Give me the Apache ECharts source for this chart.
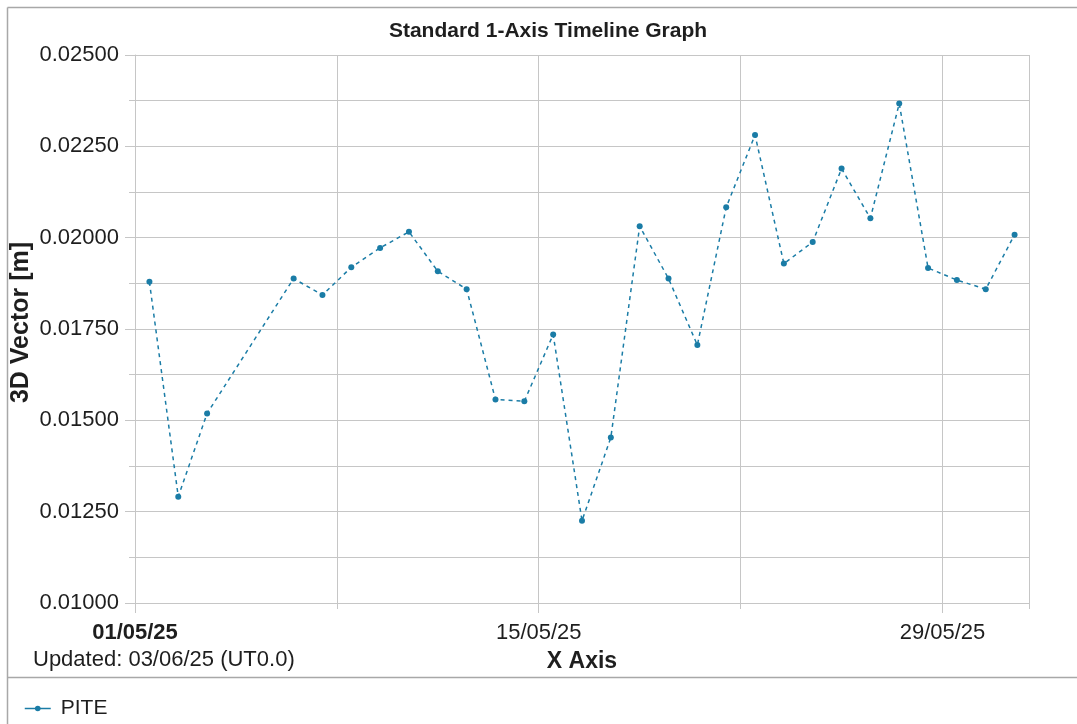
<!DOCTYPE html>
<html>
<head>
<meta charset="utf-8">
<script src="https://cdn.jsdelivr.net/npm/echarts@6/dist/echarts.min.js"></script>
<style>
  html, body { margin: 0; padding: 0; background: #fff; }
  #chart { width: 1077px; height: 724px; }
</style>
</head>
<body>
<div id="chart"></div>
<script>
// day of May 2025 for each reading (readings taken at 12:00 UT)
const obsDays = [1, 2, 3, 6, 7, 8, 9, 10, 11, 12, 13, 14, 15, 16, 17, 18, 19, 20, 21, 22, 23, 24, 25, 26, 27, 28, 29, 30, 31];
const obsHour = 12;
const piteValues = [0.01879, 0.01291, 0.01519, 0.01888, 0.01843, 0.01919, 0.01972, 0.02016, 0.01908, 0.01859,
  0.01557, 0.01552, 0.01735, 0.01225, 0.01453, 0.02031, 0.01888, 0.01706, 0.02083, 0.02281,
  0.01929, 0.01988, 0.02189, 0.02053, 0.02367, 0.01917, 0.01884, 0.01859, 0.02008];

// x axis in days since 01/05/25 00:00
const xMin = 0;
const xMax = 31;
const xTickDays = [0, 14, 28];
const xTickLabels = ['01/05/25', '15/05/25', '29/05/25'];
const yMin = 0.01;
const yMax = 0.025;
const yStep = 0.0025;

const lineColor = '#1a7ca6';
const gridColor = '#c6c6c6';
const textColor = '#1e1e1e';
const font = 'Liberation Sans, Arial, sans-serif';

let chart = echarts.init(document.getElementById('chart'));

let seriesData = obsDays.map((d, i) => [d - 1 + obsHour / 24, piteValues[i]]);

let option = {
  backgroundColor: '#fff',
  animation: false,
  title: {
    text: 'Standard 1-Axis Timeline Graph',
    left: 543,
    top: 16,
    textAlign: 'center',
    textStyle: { fontFamily: font, fontSize: 21, fontWeight: 'bold', color: textColor }
  },
  grid: { left: 135, right: 48, top: 55, bottom: 121, containLabel: false, outerBoundsMode: 'none' },
  legend: {
    data: ['PITE'],
    left: 19,
    top: 693,
    itemWidth: 26,
    itemHeight: 7,
    itemGap: 10,
    lineStyle: { type: 'solid', width: 1.5 },
    textStyle: { fontFamily: font, fontSize: 21, color: textColor, padding: [0, 0, 0, 5] }
  },
  xAxis: [
    {
      type: 'value',
      position: 'bottom',
      min: xMin,
      max: xMax,
      interval: 7,
      axisLine: { show: true, lineStyle: { color: gridColor, width: 1 } },
      axisTick: { show: true, length: 6, lineStyle: { color: gridColor } },
      axisLabel: { show: false },
      splitLine: { show: true, lineStyle: { color: gridColor, width: 1 } },
      name: 'X Axis',
      nameLocation: 'middle',
      nameGap: 47,
      nameMoveOverlap: false,
      nameTextStyle: { fontFamily: font, fontSize: 23, fontWeight: 'bold', color: textColor }
    },
    {
      type: 'value',
      position: 'bottom',
      min: xMin,
      max: xMax,
      axisLine: { show: false },
      axisTick: { show: true, length: 10, customValues: xTickDays, lineStyle: { color: gridColor } },
      splitLine: { show: false },
      axisLabel: {
        customValues: xTickDays,
        margin: 19,
        fontFamily: font,
        fontSize: 22,
        color: textColor,
        formatter: function (v) {
          let i = xTickDays.indexOf(Math.round(v));
          if (i < 0) return '';
          return i === 0 ? '{b|' + xTickLabels[i] + '}' : xTickLabels[i];
        },
        rich: {
          b: { fontFamily: font, fontSize: 22, fontWeight: 'bold', color: textColor }
        }
      }
    }
  ],
  yAxis: {
    type: 'value',
    min: yMin,
    max: yMax,
    interval: yStep,
    name: '3D Vector [m]',
    nameLocation: 'middle',
    nameGap: 101,
    nameMoveOverlap: false,
    nameTextStyle: { fontFamily: font, fontSize: 25, fontWeight: 'bold', color: textColor, padding: [0, 0, 0, 13] },
    axisLine: { show: true, lineStyle: { color: gridColor, width: 1 } },
    axisTick: { show: true, length: 10, lineStyle: { color: gridColor } },
    minorTick: { show: true, splitNumber: 2, length: 6, lineStyle: { color: gridColor } },
    axisLabel: {
      margin: 16,
      fontFamily: font,
      fontSize: 22,
      color: textColor,
      formatter: v => v.toFixed(5)
    },
    splitLine: { show: true, lineStyle: { color: gridColor, width: 1 } },
    minorSplitLine: { show: true, lineStyle: { color: gridColor, width: 1 } }
  },
  graphic: [
    { type: 'line', shape: { x1: 7.5, y1: 7.5, x2: 7.5, y2: 724 }, style: { stroke: '#a8a8a8', lineWidth: 1.5 }, silent: true },
    { type: 'line', shape: { x1: 7.5, y1: 7.5, x2: 1077, y2: 7.5 }, style: { stroke: '#a8a8a8', lineWidth: 1.5 }, silent: true },
    { type: 'line', shape: { x1: 7.5, y1: 677.5, x2: 1077, y2: 677.5 }, style: { stroke: '#a8a8a8', lineWidth: 1.5 }, silent: true },
    {
      type: 'text', left: 33, top: 649,
      style: { text: 'Updated: 03/06/25 (UT0.0)', fontFamily: font, fontSize: 22, fill: textColor }
    }
  ],
  series: [
    {
      name: 'PITE',
      type: 'line',
      xAxisIndex: 0,
      data: seriesData,
      symbol: 'circle',
      symbolSize: 6,
      itemStyle: { color: lineColor },
      lineStyle: { color: lineColor, width: 1.5, type: [4, 4] }
    }
  ]
};

chart.setOption(option);
</script>
</body>
</html>
